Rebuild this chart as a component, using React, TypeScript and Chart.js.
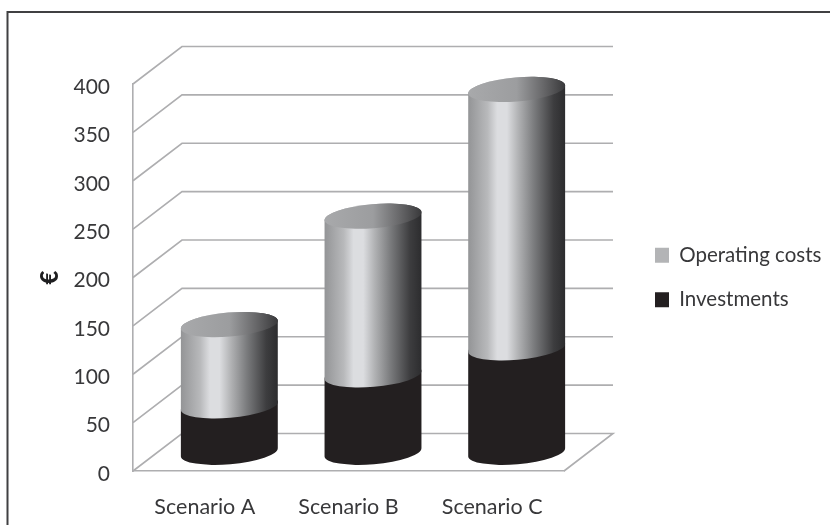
import React, { useEffect, useRef } from "react";
import { Chart, registerables } from "chart.js";

Chart.register(...registerables);

const categories = ["Scenario A", "Scenario B", "Scenario C"];
const investments = [48, 80, 108];
const operatingCosts = [84, 164, 267];
const yTicks = [0, 50, 100, 150, 200, 250, 300, 350, 400];

const FONT = "Lato, 'Open Sans', sans-serif";
const TEXT = "#38383a";
const GRID = "#aeaeb0";

// Oblique projection of the plot's depth: front plane to back wall.
const DEPTH_X = 49;
const DEPTH_Y = -37.5;
const ELLIPSE_RY = 12;
const ELLIPSE_TILT = -0.085;

const operatingStops: [number, string][] = [
  [0, "#939496"],
  [0.2, "#b8b9bb"],
  [0.3, "#dcdde0"],
  [0.4, "#dcdde0"],
  [0.52, "#b0b1b3"],
  [0.68, "#7a7b7d"],
  [0.88, "#3d3d3f"],
  [1, "#2c2c2e"],
];

const capStops: [number, string][] = [
  [0, "#a8a9ab"],
  [0.5, "#9c9d9f"],
  [0.78, "#666668"],
  [1, "#39393b"],
];

// Outline of a cylinder section: lower rim of the bottom ellipse, upper rim of the top one.
function cylinderSide(ctx: CanvasRenderingContext2D, cx: number, rx: number, top: number, bottom: number) {
  ctx.beginPath();
  ctx.ellipse(cx, bottom, rx, ELLIPSE_RY, ELLIPSE_TILT, Math.PI, 0, true);
  ctx.ellipse(cx, top, rx, ELLIPSE_RY, ELLIPSE_TILT, 0, Math.PI, true);
  ctx.closePath();
}

const wallsAndCylinders = {
  id: "wallsAndCylinders",
  beforeDatasetsDraw(chart: any) {
    const { ctx, scales, chartArea } = chart;
    const { y: yScale } = scales;
    ctx.save();

    // Wall gridlines run from the front axis up the side wall and along the back.
    ctx.strokeStyle = GRID;
    ctx.lineWidth = 1.6;
    yScale.ticks.forEach((t: any) => {
      const y = yScale.getPixelForValue(t.value);
      ctx.beginPath();
      ctx.moveTo(chartArea.left, y);
      ctx.lineTo(chartArea.left + DEPTH_X, y + DEPTH_Y);
      ctx.lineTo(chartArea.right + DEPTH_X, y + DEPTH_Y);
      if (t.value === 0) {
        ctx.lineTo(chartArea.right, y);
      }
      ctx.stroke();
    });

    // Stacked cylinders stand halfway into the depth of the floor.
    const shiftX = DEPTH_X / 2;
    const shiftY = DEPTH_Y / 2;
    const [investMeta, operatingMeta] = [chart.getDatasetMeta(0), chart.getDatasetMeta(1)];
    categories.forEach((_, i) => {
      const low = investMeta.data[i];
      const high = operatingMeta.data[i];
      const cx = low.x + shiftX;
      const rx = low.width / 2;
      const base = low.base + shiftY;
      const split = low.y + shiftY;
      const top = high.y + shiftY;

      ctx.fillStyle = "#231f20";
      cylinderSide(ctx, cx, rx, split, base);
      ctx.fill();

      const side = ctx.createLinearGradient(cx - rx, 0, cx + rx, 0);
      operatingStops.forEach(([o, c]) => side.addColorStop(o, c));
      ctx.fillStyle = side;
      cylinderSide(ctx, cx, rx, top, split);
      ctx.fill();

      const cap = ctx.createLinearGradient(cx - rx, top, cx + rx, top);
      capStops.forEach(([o, c]) => cap.addColorStop(o, c));
      ctx.fillStyle = cap;
      ctx.beginPath();
      ctx.ellipse(cx, top, rx, ELLIPSE_RY, ELLIPSE_TILT, 0, Math.PI * 2);
      ctx.fill();
    });
    ctx.restore();
  },
  // The cylinders above replace the flat bars.
  beforeDatasetDraw() {
    return false;
  },
  // Seat the legend in the gutter right of the plot.
  afterUpdate(chart: any) {
    const legend = chart.legend;
    const h = legend.height;
    legend.left = 631;
    legend.right = 830;
    legend.width = legend.right - legend.left;
    legend.top = 57;
    legend.bottom = legend.top + h;
  },
  // Frame runs along the top and left; its other sides fall off the canvas.
  afterDraw(chart: any) {
    const { ctx } = chart;
    ctx.save();
    ctx.strokeStyle = "#404042";
    ctx.lineWidth = 2;
    ctx.strokeRect(7.5, 12, 830, 530);
    ctx.restore();
  },
};

export default function App() {
  const ref = useRef<HTMLCanvasElement>(null);

  useEffect(() => {
    const chart = new Chart(ref.current!, {
      type: "bar",
      data: {
        labels: categories,
        datasets: [
          { label: "Investments", data: investments, backgroundColor: "#231f20", borderWidth: 0 },
          { label: "Operating costs", data: operatingCosts, backgroundColor: "#b3b4b6", borderWidth: 0 },
        ],
      },
      options: {
        responsive: false,
        animation: false,
        layout: { padding: { top: 84, left: 0, right: 78, bottom: 0 } },
        datasets: { bar: { categoryPercentage: 1, barPercentage: 0.677 } },
        plugins: {
          tooltip: { enabled: false },
          title: { display: false },
          legend: {
            position: "right",
            reverse: true,
            labels: {
              boxWidth: 14,
              boxHeight: 15,
              padding: 24,
              color: TEXT,
              font: { family: FONT, size: 20.5 },
            },
          },
        },
        scales: {
          x: {
            stacked: true,
            grid: { display: false, drawTicks: false },
            border: { display: true, color: GRID, width: 1.6 },
            ticks: { color: TEXT, font: { family: FONT, size: 21.5 }, padding: 23, maxRotation: 0 },
            afterFit: (s: any) => { s.height = 54; },
          },
          y: {
            stacked: true,
            min: 0,
            max: 400,
            afterBuildTicks: (s: any) => { s.ticks = yTicks.map((value) => ({ value })); },
            grid: { display: false, drawTicks: false },
            border: { display: true, color: GRID, width: 1.6 },
            ticks: { color: TEXT, font: { family: FONT, size: 21 }, padding: 23, labelOffset: 3 },
            title: {
              display: true,
              text: "€",
              color: "#1e1e20",
              font: { family: FONT, size: 24, weight: "900" },
              padding: { top: 36, bottom: 0 },
            },
            afterFit: (s: any) => { s.width = 133; },
          },
        },
      },
      plugins: [wallsAndCylinders],
    } as any);
    return () => chart.destroy();
  }, []);

  return (
    <div style={{ position: "absolute", left: 0, top: 0, width: 830, height: 525, background: "#fff" }}>
      <canvas ref={ref} width={830} height={525} style={{ display: "block" }} />
    </div>
  );
}
